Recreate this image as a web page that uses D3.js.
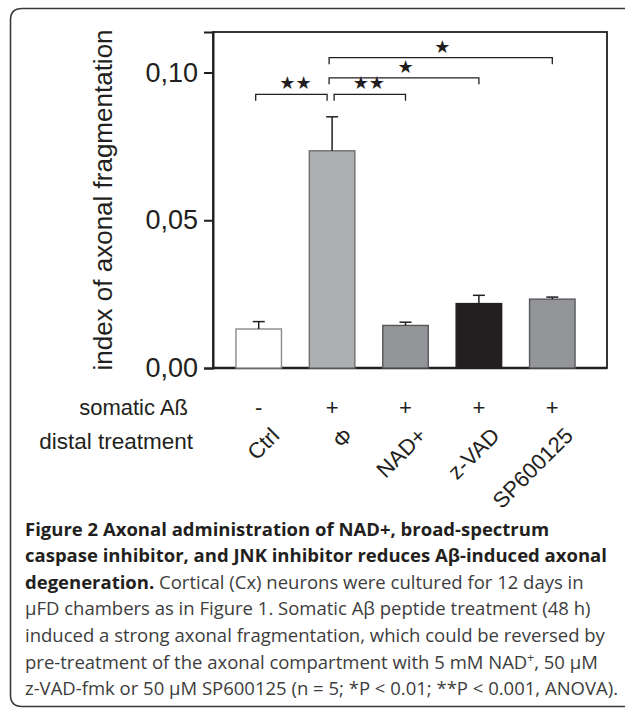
<!DOCTYPE html>
<html>
<head>
<meta charset="utf-8">
<script src="https://cdn.jsdelivr.net/npm/d3@7"></script>
<style>
  html, body { margin: 0; padding: 0; background: #fff; }
  svg { display: block; }
</style>
</head>
<body>
<script>
//   Data
const groups = ["Ctrl", "Φ", "NAD+", "z-VAD", "SP600125"];
const somatic = ["-", "+", "+", "+", "+"];
const means = [0.0132, 0.0735, 0.0144, 0.0218, 0.0233];
const sems = [0.0025, 0.0115, 0.0011, 0.0028, 0.0007];
const fills = ["#ffffff", "#aeafb2", "#939598", "#231f20", "#939598"];
const strokes = ["#8a8a8c", "#6d6e71", "#58595b", "#231f20", "#58595b"];
const yTicks = [0, 0.05, 0.1];

// significance brackets: from group, to group, height (data units), label
const sigFrom = ["Ctrl", "Φ", "Φ", "Φ"];
const sigTo = ["Φ", "NAD+", "z-VAD", "SP600125"];
const sigLevel = [0.0926, 0.0926, 0.0982, 0.1050];
const sigLabel = ["★★", "★★", "★", "★"];

const captionLines = [
  ["Figure 2 Axonal administration of NAD+, broad-spectrum", ""],
  ["caspase inhibitor, and JNK inhibitor reduces Aβ-induced axonal", ""],
  ["degeneration.", " Cortical (Cx) neurons were cultured for 12 days in"],
  ["", "μFD chambers as in Figure 1. Somatic Aβ peptide treatment (48 h)"],
  ["", "induced a strong axonal fragmentation, which could be reversed by"],
  ["", "pre-treatment of the axonal compartment with 5 mM NAD|+|, 50 μM"],
  ["", "z-VAD-fmk or 50 μM SP600125 (n = 5; *P < 0.01; **P < 0.001, ANOVA)."]
];

//   Parameters
const w = 625;
const h = 708;
const plot = { left: 213, right: 607, top: 32, bottom: 368 };
const chartFont = "'Liberation Sans', Arial, Helvetica, sans-serif";
const captionFont = "'Open Sans', 'Noto Sans', sans-serif";
const ink = "#231f20";

const svg = d3.select("body")
  .append("svg")
  .attr("width", w)
  .attr("height", h);

//   Outer frame (open to the right, as cropped)
svg.append("path")
  .attr("d", "M625,8.5 H22 Q10.5,8.5 10.5,20 V695 Q10.5,706.5 22,706.5 H625")
  .attr("fill", "none")
  .attr("stroke", "#3a3a3a")
  .attr("stroke-width", 1.6);

//   Scales
const x = d3.scaleBand()
  .domain(groups)
  .range([222, 589])
  .paddingInner(0.38)
  .paddingOuter(0.19);

const y = d3.scaleLinear()
  .domain([0, 0.1137])
  .range([plot.bottom, plot.top]);

const cx = (g) => x(g) + x.bandwidth() / 2;

//   Plot box
svg.append("rect")
  .attr("x", plot.left)
  .attr("y", plot.top)
  .attr("width", plot.right - plot.left)
  .attr("height", plot.bottom - plot.top)
  .attr("fill", "none")
  .attr("stroke", ink)
  .attr("stroke-width", 1.8);

//   Y axis
const comma = d3.formatLocale({ decimal: ",", thousands: ".", grouping: [3], currency: ["", ""] });
const yAxis = d3.axisLeft(y)
  .tickValues(yTicks)
  .tickFormat(comma.format(".2f"))
  .tickSize(9)
  .tickPadding(6);

const yg = svg.append("g")
  .attr("transform", "translate(" + plot.left + ",0)")
  .call(yAxis);

yg.select(".domain")
  .attr("stroke", ink)
  .attr("stroke-width", 2);
yg.selectAll(".tick line")
  .attr("stroke", ink)
  .attr("stroke-width", 2);
yg.selectAll(".tick text")
  .attr("fill", ink)
  .style("font-family", chartFont)
  .style("font-size", "27px");

// x baseline a bit heavier
svg.append("line")
  .attr("x1", plot.left)
  .attr("x2", plot.right)
  .attr("y1", y(0))
  .attr("y2", y(0))
  .attr("stroke", ink)
  .attr("stroke-width", 2.4);

//   Y title
svg.append("text")
  .attr("transform", "translate(112," + (plot.top + plot.bottom) / 2 + ") rotate(-90)")
  .attr("text-anchor", "middle")
  .attr("fill", ink)
  .style("font-family", chartFont)
  .style("font-size", "26px")
  .text("index of axonal fragmentation");

//   Bars
svg.selectAll(".bar")
  .data(groups)
  .enter()
  .append("rect")
  .attr("class", "bar")
  .attr("x", (d) => x(d))
  .attr("y", (d, i) => y(means[i]))
  .attr("width", x.bandwidth())
  .attr("height", (d, i) => y(0) - y(means[i]))
  .attr("fill", (d, i) => fills[i])
  .attr("stroke", (d, i) => strokes[i])
  .attr("stroke-width", 1.4);

//   Error bars (upper only)
const err = svg.selectAll(".err")
  .data(groups)
  .enter()
  .append("g")
  .attr("class", "err")
  .attr("stroke", ink)
  .attr("stroke-width", 1.5);

err.append("line")
  .attr("x1", (d) => cx(d))
  .attr("x2", (d) => cx(d))
  .attr("y1", (d, i) => y(means[i]))
  .attr("y2", (d, i) => y(means[i] + sems[i]));

err.append("line")
  .attr("x1", (d) => cx(d) - 6)
  .attr("x2", (d) => cx(d) + 6)
  .attr("y1", (d, i) => y(means[i] + sems[i]))
  .attr("y2", (d, i) => y(means[i] + sems[i]));

//   Significance brackets
const sig = svg.selectAll(".sig")
  .data(sigLabel)
  .enter()
  .append("g")
  .attr("class", "sig");

sig.append("path")
  .attr("d", (d, i) => {
    const x1 = cx(sigFrom[i]) + (i === 1 ? 2 : -3);
    const x2 = cx(sigTo[i]) + (i === 0 ? -5 : 0);
    const yy = y(sigLevel[i]);
    return "M" + x1 + "," + (yy + 6.5) + " V" + yy + " H" + x2 + " V" + (yy + 6.5);
  })
  .attr("fill", "none")
  .attr("stroke", ink)
  .attr("stroke-width", 1.3);

sig.append("text")
  .attr("x", (d, i) => (cx(sigFrom[i]) + cx(sigTo[i])) / 2)
  .attr("y", (d, i) => y(sigLevel[i]) - 5)
  .attr("text-anchor", "middle")
  .attr("fill", ink)
  .style("font-family", "'DejaVu Sans', sans-serif")
  .style("font-size", "18px")
  .text((d) => d);

//   Row labels under the axis
svg.append("text")
  .attr("x", 188)
  .attr("y", 415)
  .attr("text-anchor", "end")
  .attr("fill", ink)
  .style("font-family", chartFont)
  .style("font-size", "22px")
  .text("somatic Aß");

svg.append("text")
  .attr("x", 193)
  .attr("y", 449)
  .attr("text-anchor", "end")
  .attr("fill", ink)
  .style("font-family", chartFont)
  .style("font-size", "22.5px")
  .text("distal treatment");

svg.selectAll(".sign")
  .data(groups)
  .enter()
  .append("text")
  .attr("class", "sign")
  .attr("x", (d) => cx(d))
  .attr("y", 415)
  .attr("text-anchor", "middle")
  .attr("fill", ink)
  .style("font-family", chartFont)
  .style("font-size", "22px")
  .text((d, i) => somatic[i]);

svg.selectAll(".glabel")
  .data(groups)
  .enter()
  .append("text")
  .attr("class", "glabel")
  .attr("transform", (d) => "translate(" + (cx(d) + 22) + ",437) rotate(-45)")
  .attr("text-anchor", "end")
  .attr("fill", ink)
  .style("font-family", chartFont)
  .style("font-size", "22px")
  .text((d) => d);

//   Caption
const capX = 25;
const capY = 535.5;
const capStep = 26.6;
const cap = svg.append("text")
  .attr("x", capX)
  .attr("y", capY)
  .style("font-family", captionFont)
  .style("font-size", "18.5px");

captionLines.forEach((line, i) => {
  const first = cap.append("tspan")
    .attr("x", capX)
    .attr("y", capY + i * capStep);
  if (line[0]) {
    first.attr("font-weight", "bold").attr("fill", ink).text(line[0]);
  }
  if (line[1]) {
    const parts = line[1].split("|");
    const t0 = line[0] ? cap.append("tspan") : first;
    t0.attr("fill", "#3d3d3d").text(parts[0]);
    if (parts.length > 1) {
      cap.append("tspan")
        .attr("fill", "#3d3d3d")
        .attr("dy", -7)
        .style("font-size", "12px")
        .text(parts[1]);
      cap.append("tspan")
        .attr("fill", "#3d3d3d")
        .attr("dy", 7)
        .text(parts[2]);
    }
  }
});
</script>
</body>
</html>
